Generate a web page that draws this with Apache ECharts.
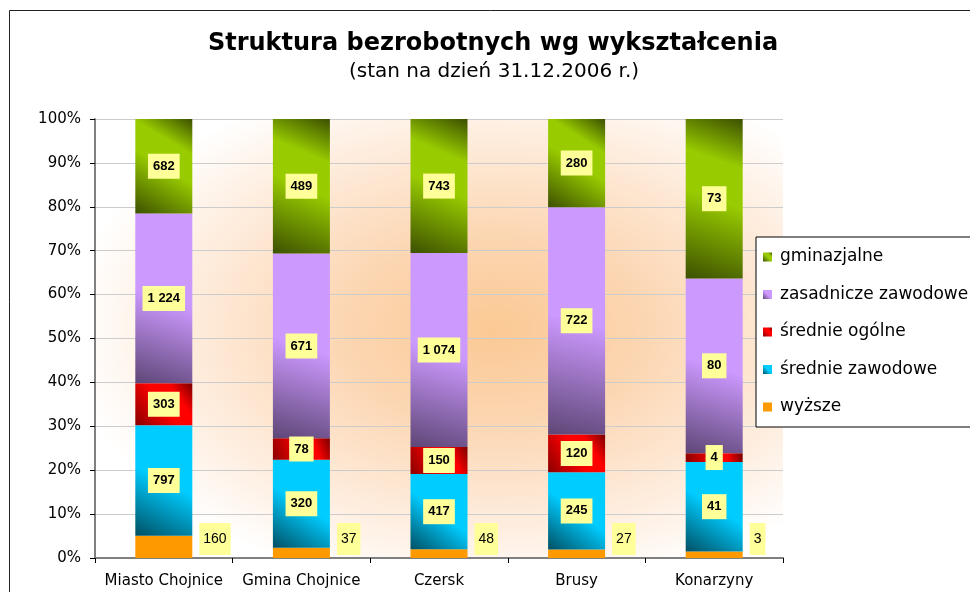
<!DOCTYPE html>
<html>
<head>
<meta charset="utf-8">
<script src="https://cdn.jsdelivr.net/npm/echarts@6/dist/echarts.min.js"></script>
<style>
html, body { margin: 0; padding: 0; background: #fff; }
#chart { width: 970px; height: 592px; }
</style>
</head>
<body>
<div id="chart"></div>
<script>
// dane - liczba bezrobotnych wg wykształcenia
var gminy = ['Miasto Chojnice', 'Gmina Chojnice', 'Czersk', 'Brusy', 'Konarzyny'];
var wyzsze = [160, 37, 48, 27, 3];
var srednieZawodowe = [797, 320, 417, 245, 41];
var srednieOgolne = [303, 78, 150, 120, 4];
var zasadnicze = [1224, 671, 1074, 722, 80];
var gimnazjalne = [682, 489, 743, 280, 73];

var fontMain = '"DejaVu Sans", Verdana, sans-serif';
var fontLabel = '"Liberation Sans", Arial, sans-serif';

(function()
{
	var mychart = echarts.init(document.getElementById('chart'));

	var sumy = gminy.map(function(g, i) {
		return wyzsze[i] + srednieZawodowe[i] + srednieOgolne[i] + zasadnicze[i] + gimnazjalne[i];
	});

	// 1224 -> "1 224"
	function fmt(v) {
		return String(v).replace(/\B(?=(\d{3})+(?!\d))/g, ' ');
	}

	function grad(dark, bright, topDark) {
		var stops = [{offset: 0, color: dark}, {offset: 0.5, color: bright}];
		if (topDark) {
			stops.push({offset: 0.72, color: bright});
			stops.push({offset: 1, color: topDark});
		} else {
			stops.push({offset: 1, color: bright});
		}
		return new echarts.graphic.LinearGradient(0, 1, 1, 0, stops);
	}

	function makeSerie(name, raw, color) {
		return {
			name: name,
			type: 'bar',
			stack: 'all',
			barWidth: 57,
			itemStyle: {color: color},
			label: {
				show: true,
				position: 'inside',
				formatter: function(p) { return fmt(raw[p.dataIndex]); },
				backgroundColor: '#FFFF99',
				padding: [6, 5],
				color: '#000',
				fontFamily: fontLabel,
				fontWeight: 'bold',
				fontSize: 13
			},
			data: raw.map(function(v, i) { return v / sumy[i] * 100; })
		};
	}

	var series = [];
	var sWyzsze = makeSerie('wyższe', wyzsze, '#FF9900');
	sWyzsze.label = {
		show: true,
		position: ['100%', '100%'],
		align: 'left',
		verticalAlign: 'bottom',
		offset: [7, -3],
		formatter: function(p) { return fmt(wyzsze[p.dataIndex]); },
		backgroundColor: '#FFFF99',
		padding: [9, 4],
		color: '#000',
		fontFamily: fontLabel,
		fontSize: 14
	};
	series.push(sWyzsze);
	series.push(makeSerie('średnie zawodowe', srednieZawodowe, grad('#004f63', '#00CCFF')));
	series.push(makeSerie('średnie ogólne', srednieOgolne, grad('#8a0000', '#FF0000', '#7a0000')));
	series.push(makeSerie('zasadnicze zawodowe', zasadnicze, grad('#5e4676', '#CC99FF')));
	series.push(makeSerie('gminazjalne', gimnazjalne, grad('#3c5000', '#99CC00', '#3c5000')));

	// poświata w tle wykresu (elipsa: prostokąt rozciągnięty w poziomie)
	var glowW = 688 / 1.6;
	var option = {
		animation: false,
		backgroundColor: '#fff',
		graphic: [
			{
				type: 'rect',
				shape: {x: 9.5, y: 10.5, width: 1100, height: 700},
				style: {fill: 'none', stroke: '#222', lineWidth: 1},
				z: -2
			},
			{
				type: 'rect',
				x: 95, y: 119,
				scaleX: 1.6,
				shape: {x: 0, y: 0, width: glowW, height: 439},
				style: {
					fill: new echarts.graphic.RadialGradient(0.58, 0.48, 0.62, [
						{offset: 0, color: '#FBC994'},
						{offset: 0.35, color: '#FCD6B2'},
						{offset: 0.75, color: '#FEEEE0'},
						{offset: 1, color: '#FFFFFF'}
					])
				},
				z: -1
			},
			{
				type: 'text',
				x: 493, y: 44,
				style: {
					text: 'Struktura bezrobotnych wg wykształcenia',
					fontFamily: fontMain, fontWeight: 'bold', fontSize: 24,
					fill: '#000', align: 'center', verticalAlign: 'middle'
				}
			},
			{
				type: 'text',
				x: 494, y: 72,
				style: {
					text: '(stan na dzień 31.12.2006 r.)',
					fontFamily: fontMain, fontSize: 20,
					fill: '#000', align: 'center', verticalAlign: 'middle'
				}
			}
		],
		legend: {
			orient: 'vertical',
			left: 756,
			top: 237,
			padding: [11, 40, 11, 7],
			itemGap: 19.5,
			itemWidth: 9,
			itemHeight: 9,
			icon: 'rect',
			borderColor: '#000',
			borderWidth: 1,
			backgroundColor: '#fff',
			textStyle: {
				fontFamily: fontMain,
				fontSize: 17,
				lineHeight: 18,
				color: '#000',
				padding: [0, 0, 0, 3]
			},
			data: ['gminazjalne', 'zasadnicze zawodowe', 'średnie ogólne', 'średnie zawodowe', 'wyższe']
		},
		grid: {
			left: 95,
			right: 187,
			top: 119,
			bottom: 34
		},
		xAxis: {
			type: 'category',
			data: gminy,
			axisLine: {lineStyle: {color: '#808080', width: 2}},
			axisTick: {show: true, length: 5, lineStyle: {color: '#000'}},
			axisLabel: {
				interval: 0,
				hideOverlap: false,
				color: '#000',
				fontFamily: fontMain,
				fontSize: 15,
				margin: 16
			}
		},
		yAxis: {
			type: 'value',
			min: 0,
			max: 100,
			interval: 10,
			axisLine: {show: true, lineStyle: {color: '#808080', width: 2}},
			axisTick: {show: true, length: 5, lineStyle: {color: '#000'}},
			splitLine: {lineStyle: {color: '#cccccc'}},
			axisLabel: {
				formatter: '{value}%',
				color: '#000',
				fontFamily: fontMain,
				fontSize: 15,
				margin: 14
			}
		},
		series: series
	};
	mychart.setOption(option);
})();
</script>
</body>
</html>
